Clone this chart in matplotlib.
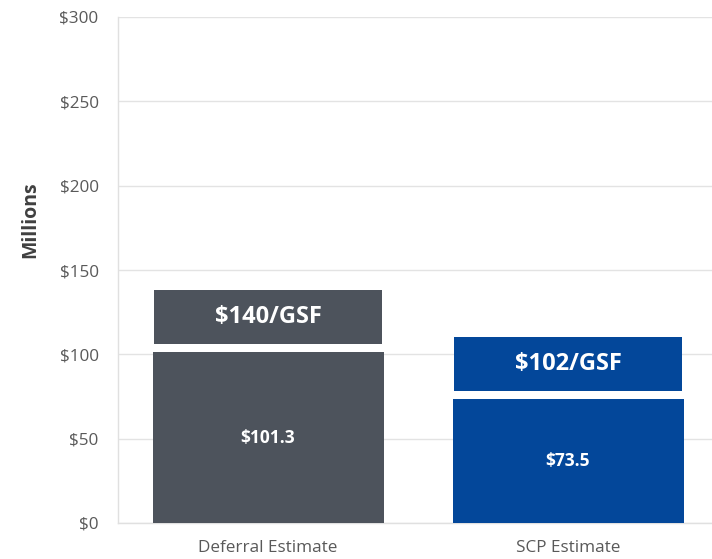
import matplotlib
matplotlib.use("Agg")
import matplotlib.pyplot as plt
from matplotlib.ticker import FuncFormatter

categories = ["Deferral Estimate", "SCP Estimate"]
values = [101.3, 73.5]
value_labels = ["$101.3", "$73.5"]
gsf_labels = ["$140/GSF", "$102/GSF"]
colors = ["#4D535C", "#03479A"]
y_ticks = [0, 50, 100, 150, 200, 250, 300]

plt.rcParams['font.family'] = ['Open Sans', 'DejaVu Sans']

fig = plt.figure(figsize=(7.12, 5.59), dpi=100)
ax = fig.add_axes([118/712, 36/559, 600/712, 506/559])

x = list(range(len(categories)))
width = 0.77
gap = 5.0
box_h = 32.0

ax.bar(x, values, width=width, color=colors, zorder=3)
box_bottoms = [v + gap for v in values]
ax.bar(x, [box_h]*len(x), bottom=box_bottoms, width=width*0.99, color=colors, zorder=3)

for xi, v, lab in zip(x, values, value_labels):
    ax.text(xi, v/2, lab, ha='center', va='center', color='white',
            fontsize=12.5, fontweight='bold', zorder=4)
for xi, b, lab in zip(x, box_bottoms, gsf_labels):
    ax.text(xi, b + box_h/2, lab, ha='center', va='center', color='white',
            fontsize=17, fontweight='bold', zorder=4)

ax.set_xlim(-0.5, 1.5)
ax.set_ylim(0, 300)
ax.set_yticks(y_ticks)
ax.yaxis.set_major_formatter(FuncFormatter(lambda v, p: f"${v:.0f}"))
ax.set_xticks(x)
ax.set_xticklabels(categories)
ax.tick_params(axis='both', length=0, labelsize=12.3, colors='#595959')
ax.tick_params(axis='y', pad=14)
ax.tick_params(axis='x', pad=12)
ax.grid(axis='y', color='#E3E3E3', linewidth=1, zorder=0)
for s in ['top', 'right']:
    ax.spines[s].set_visible(False)
for s in ['left', 'bottom']:
    ax.spines[s].set_color('#E0E0E0')
    ax.spines[s].set_linewidth(1)

fig.text(30/712, (559-220)/559, "Millions", rotation=90, ha='center', va='center',
         fontsize=14, fontweight='bold', color='#404040')

fig.savefig("out.png", dpi=100)
